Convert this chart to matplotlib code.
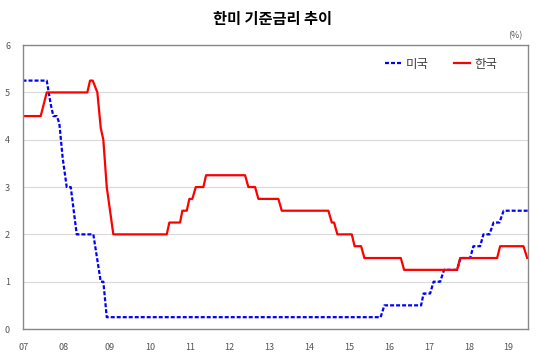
import matplotlib.pyplot as plt

plt.rcParams['font.family'] = ['Noto Sans CJK KR', 'DejaVu Sans']

# x = months since Jan 2007, y = policy rate (%)
us_x = [-2.35, 4.94, 6.14, 6.93, 7.95, 8.73, 9.76, 10.96, 12.17, 13.97, 18.97,
        21.2, 21.98, 23.01, 105.46, 106.6, 117.65, 118.4, 120.36, 121.42,
        123.38, 124.58, 128.49, 129.55, 132.41, 133.4, 135.42, 136.41,
        138.22, 139.48, 141.23, 142.5, 149.87]
us_rate = [5.25, 5.25, 4.75, 4.5, 4.5, 4.35, 3.6, 3.0, 3.0, 2.0, 2.0,
           1.0, 1.0, 0.25, 0.25, 0.5, 0.5, 0.75, 0.75, 1.0,
           1.0, 1.25, 1.25, 1.5, 1.5, 1.75, 1.75, 2.0,
           2.0, 2.25, 2.25, 2.5, 2.5]

kr_x = [-2.35, 3.13, 4.94, 17.16, 17.98, 18.79, 20.18, 21.2, 21.98, 23.01,
        24.99, 41.07, 41.86, 45.08, 45.77, 47.1, 47.88, 48.78, 49.81, 52.1,
        52.91, 64.65, 65.65, 67.67, 68.66, 74.68, 75.7, 89.74, 90.76, 91.45,
        92.45, 96.78, 97.63, 99.58, 100.58, 111.54, 112.53, 128.49, 129.4,
        140.54, 141.44, 148.46, 149.6]
kr_rate = [4.5, 4.5, 5.0, 5.0, 5.25, 5.25, 5.0, 4.25, 4.0, 3.0,
           2.0, 2.0, 2.25, 2.25, 2.5, 2.5, 2.75, 2.75, 3.0, 3.0,
           3.25, 3.25, 3.0, 3.0, 2.75, 2.75, 2.5, 2.5, 2.25, 2.25,
           2.0, 2.0, 1.75, 1.75, 1.5, 1.5, 1.25, 1.25, 1.5,
           1.5, 1.75, 1.75, 1.5]

tick_pos = [-2, 10, 24, 36, 48, 60, 72, 84, 96, 108, 120, 132, 144]
tick_labels = ['07', '08', '09', '10', '11', '12', '13', '14', '15', '16', '17', '18', '19']

fig = plt.figure(figsize=(5.4, 3.58), dpi=100)
ax = fig.add_axes([0.0417, 0.081, 0.9363, 0.793])

ax.plot(us_x, us_rate, color='#0000ff', lw=1.6, linestyle=(0, (1.8, 0.9)), label='미국')
ax.plot(kr_x, kr_rate, color='#ff0000', lw=1.6, label='한국')

ax.set_xlim(-2.35, 149.87)
ax.set_ylim(0, 6)
ax.set_yticks(range(7))
ax.set_xticks(tick_pos)
ax.set_xticklabels(tick_labels)
ax.grid(axis='y', color='#d9d9d9', lw=0.8)
ax.set_axisbelow(True)
for s in ax.spines.values():
    s.set_color('#888888')
    s.set_linewidth(1.0)
ax.tick_params(length=0, labelsize=6.5, labelcolor='#555555')
ax.tick_params(axis='x', pad=10)
ax.tick_params(axis='y', pad=9)

ax.legend(ncol=2, frameon=False, loc='center right', bbox_to_anchor=(0.952, 0.933),
          fontsize=9, handlelength=1.25, handletextpad=0.4, columnspacing=2.0,
          borderpad=0, labelcolor='#404040')

fig.text(0.505, 0.948, '한미 기준금리 추이', ha='center', va='center',
         fontsize=11, fontweight='bold')
fig.text(0.955, 0.9, '(%)', ha='center', va='center', fontsize=6.5, color='#555555')

fig.savefig('out.png', dpi=100)
